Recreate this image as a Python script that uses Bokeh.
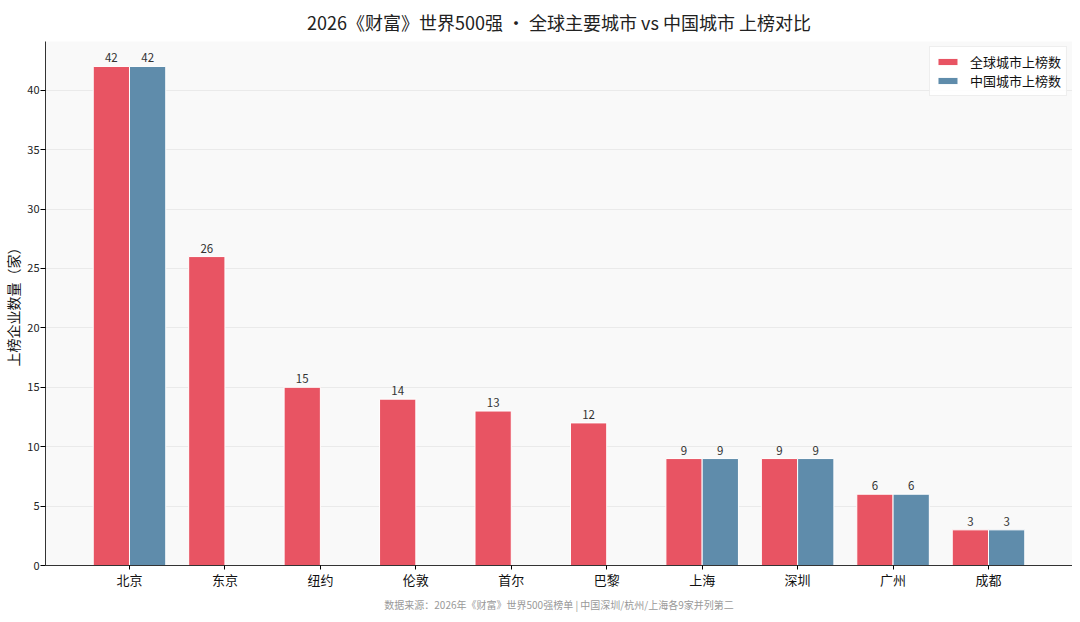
from bokeh.plotting import figure
from bokeh.models import Range1d, FixedTicker, ColumnDataSource, Title, Legend, LegendItem
from bokeh.embed import file_html
from bokeh.resources import INLINE
from bokeh.core.properties import value

cities = ["北京", "东京", "纽约", "伦敦", "首尔", "巴黎", "上海", "深圳", "广州", "成都"]
global_counts = [42, 26, 15, 14, 13, 12, 9, 9, 6, 3]
china_counts = [42, 0, 0, 0, 0, 0, 9, 9, 6, 3]
y_ticks = [0, 5, 10, 15, 20, 25, 30, 35, 40]

FONT = "Noto Sans CJK SC"
RED = "#E85463"
BLUE = "#5F8CAB"
BW = 0.38

p = figure(frame_width=1027, frame_height=524, output_backend="svg", toolbar_location=None,
           x_range=Range1d(-0.88, 9.88), y_range=Range1d(0, 44.1),
           min_border_left=0, min_border_right=0, min_border_top=0, min_border_bottom=0)

p.title.text = "2026《财富》世界500强 · 全球主要城市 vs 中国城市 上榜对比"
p.title.align = "center"
p.title.text_font = FONT
p.title.text_font_size = "18px"
p.title.text_font_style = "normal"
p.title.text_color = "#222222"
p.title.standoff = 13

p.background_fill_color = "#F9F9F9"
p.border_fill_color = "white"
p.outline_line_color = None

xs = list(range(len(cities)))
g_src = ColumnDataSource(dict(x=[i - BW / 2 for i in xs], top=global_counts,
                              lab=[str(v) for v in global_counts]))
c_idx = [i for i in xs if china_counts[i] > 0]
c_src = ColumnDataSource(dict(x=[i + BW / 2 for i in c_idx], top=[china_counts[i] for i in c_idx],
                              lab=[str(china_counts[i]) for i in c_idx]))

r1 = p.vbar(x="x", top="top", width=BW, source=g_src, fill_color=RED, line_color="white", line_width=1)
r2 = p.vbar(x="x", top="top", width=BW, source=c_src, fill_color=BLUE, line_color="white", line_width=1)

for src in (g_src, c_src):
    p.text(x="x", y="top", text="lab", source=src, text_align="center", text_baseline="bottom",
           y_offset=-4, text_font=value(FONT), text_font_size="11.5px", text_color="#333333")

p.xaxis.ticker = FixedTicker(ticks=xs)
p.xaxis.major_label_overrides = {i: c for i, c in enumerate(cities)}
p.xaxis.major_label_text_font = FONT
p.xaxis.major_label_text_font_size = "13px"
p.xaxis.major_label_text_color = "#111111"
p.xaxis.major_label_standoff = 0
p.xaxis.major_tick_in = 0
p.xaxis.major_tick_out = 4
p.xaxis.minor_tick_line_color = None
p.xaxis.axis_line_color = "#333333"

p.yaxis.ticker = FixedTicker(ticks=y_ticks)
p.yaxis.major_label_text_font = FONT
p.yaxis.major_label_text_font_size = "11px"
p.yaxis.major_label_text_color = "#222222"
p.yaxis.major_label_standoff = 1
p.yaxis.major_tick_in = 0
p.yaxis.major_tick_out = 5
p.yaxis.minor_tick_line_color = None
p.yaxis.axis_line_color = "#333333"
p.yaxis.axis_label = "上榜企业数量（家）"
p.yaxis.axis_label_text_font = FONT
p.yaxis.axis_label_text_font_size = "14px"
p.yaxis.axis_label_text_font_style = "normal"
p.yaxis.axis_label_text_color = "#111111"
p.yaxis.axis_label_standoff = 1

p.xgrid.grid_line_color = None
p.ygrid.grid_line_color = "#E6E6E6"
p.ygrid.grid_line_alpha = 0.8

legend = Legend(items=[LegendItem(label="全球城市上榜数", renderers=[r1]),
                       LegendItem(label="中国城市上榜数", renderers=[r2])],
                location="top_right")
legend.label_text_font = FONT
legend.label_text_font_size = "13px"
legend.label_text_color = "#111111"
legend.border_line_color = "#DDDDDD"
legend.background_fill_color = "white"
legend.background_fill_alpha = 0.9
legend.glyph_width = 25
legend.glyph_height = 9
legend.label_standoff = 10
legend.spacing = 0
legend.padding = 5
legend.margin = 5
p.add_layout(legend)

footer = Title(text="数据来源：2026年《财富》世界500强榜单 | 中国深圳/杭州/上海各9家并列第二",
               align="center", text_font=FONT, text_font_size="10px",
               text_font_style="normal", text_color="#999999", standoff=7)
p.add_layout(footer, "below")

open("out.html", "w").write(file_html(p, INLINE))
